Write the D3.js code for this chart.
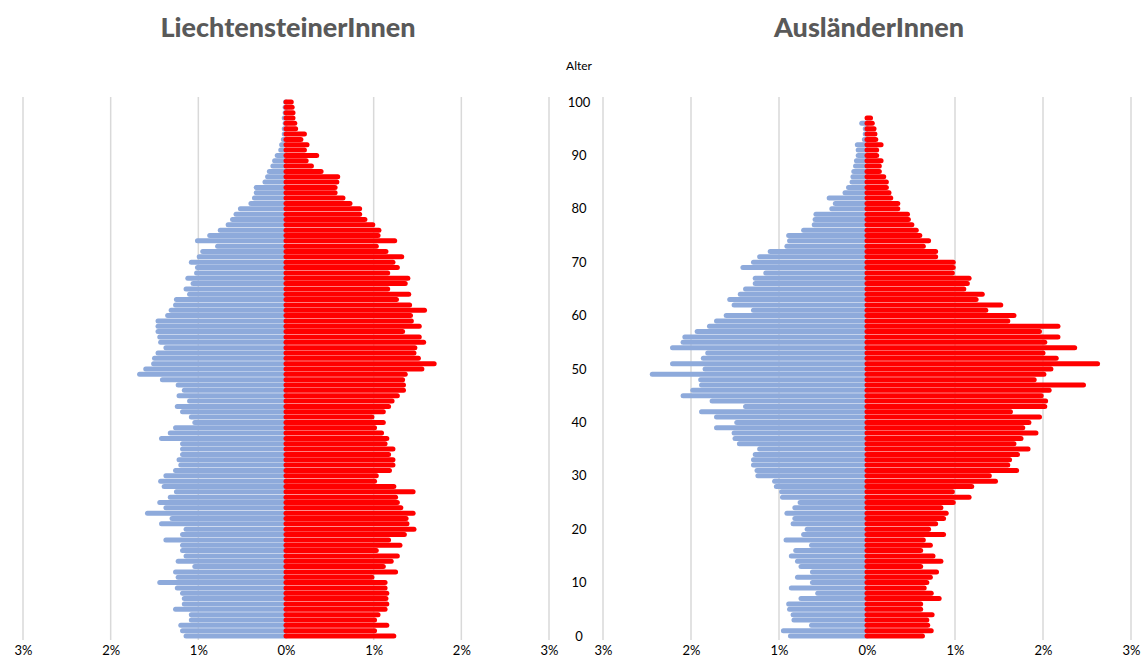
<!DOCTYPE html>
<html>
<head>
<meta charset="utf-8">
<title>Bevölkerungspyramide</title>
<script src="https://cdn.jsdelivr.net/npm/d3@7"></script>
<style>
  body { margin: 0; background: #fff; }
  text { font-family: Lato, "Open Sans", sans-serif; }
</style>
</head>
<body>
<svg width="1142" height="660"></svg>
<script>
// Anteil an der Gesamtbevölkerung der Gruppe in %, Alter 0..100
var ages = d3.range(0, 101);
var titles = ["LiechtensteinerInnen", "AusländerInnen"];
var pctTicks = [-3, -2, -1, 0, 1, 2, 3];
var ageTicks = d3.range(0, 101, 10);

var liMaenner = [1.14,1.18,1.20,1.08,1.08,1.26,1.16,1.16,1.18,1.24,1.44,1.23,1.26,1.04,1.23,1.14,1.18,1.18,1.37,1.18,
  1.14,1.42,1.30,1.58,1.37,1.44,1.32,1.25,1.39,1.43,1.37,1.26,1.20,1.22,1.18,1.18,1.18,1.42,1.32,1.26,
  1.04,1.08,1.18,1.24,1.10,1.22,1.16,1.23,1.41,1.67,1.60,1.51,1.50,1.46,1.37,1.43,1.44,1.46,1.46,1.46,
  1.35,1.31,1.26,1.25,1.10,1.14,1.06,1.12,1.02,1.01,1.08,0.99,0.95,0.78,1.01,0.87,0.75,0.66,0.61,0.57,
  0.52,0.40,0.36,0.34,0.34,0.24,0.21,0.19,0.15,0.13,0.10,0.06,0.05,0.03,0.02,0.02,0.01,0.02,0.01,0.01,0.005];
var liFrauen = [1.23,1.01,1.15,1.01,1.05,1.13,1.15,1.14,1.15,1.13,1.13,0.98,1.25,1.11,1.20,1.27,1.03,1.30,1.17,1.35,
  1.46,1.38,1.37,1.45,1.31,1.27,1.25,1.45,1.23,1.01,1.03,1.18,1.22,1.22,1.17,1.22,1.13,1.15,1.09,1.01,
  1.11,0.98,1.11,1.17,1.21,1.27,1.34,1.34,1.33,1.36,1.55,1.69,1.51,1.46,1.47,1.57,1.52,1.33,1.52,1.43,
  1.42,1.58,1.41,1.26,1.40,1.16,1.36,1.39,1.16,1.27,1.22,1.32,1.14,1.03,1.24,1.05,1.06,0.99,0.90,0.84,
  0.84,0.73,0.65,0.56,0.56,0.58,0.59,0.40,0.29,0.23,0.35,0.21,0.24,0.17,0.21,0.11,0.10,0.08,0.08,0.07,0.06];
var auMaenner = [0.87,0.95,0.63,0.83,0.84,0.88,0.89,0.75,0.56,0.86,0.62,0.79,0.62,0.75,0.79,0.86,0.81,0.63,0.92,0.72,
  0.68,0.84,0.82,0.91,0.82,0.76,0.96,0.97,1.03,1.05,1.24,1.25,1.29,1.29,1.27,1.22,1.45,1.50,1.51,1.71,
  1.48,1.71,1.88,1.38,1.76,2.09,1.98,1.88,1.89,2.44,1.84,2.21,1.86,1.81,2.21,2.09,2.07,1.93,1.79,1.71,
  1.60,1.29,1.51,1.56,1.44,1.38,1.27,1.27,1.15,1.41,1.29,1.22,1.10,0.91,0.88,0.89,0.72,0.60,0.59,0.58,
  0.40,0.36,0.43,0.25,0.21,0.17,0.16,0.15,0.13,0.12,0.10,0.10,0.11,0.03,0.02,0.02,0.06,0,0,0,0];
var auFrauen = [0.63,0.73,0.69,0.68,0.74,0.61,0.61,0.82,0.73,0.65,0.68,0.72,0.79,0.61,0.84,0.75,0.61,0.72,0.64,0.87,
  0.70,0.78,0.87,0.90,0.84,0.98,1.16,0.97,1.19,1.46,1.39,1.70,1.60,1.62,1.71,1.83,1.67,1.75,1.92,1.77,
  1.84,1.96,1.63,2.02,2.03,1.98,2.07,2.46,1.90,2.01,2.09,2.62,2.15,2.00,2.36,2.02,2.17,1.96,2.17,1.60,
  1.67,1.35,1.52,1.24,1.31,1.10,1.14,1.16,0.97,0.98,0.98,0.78,0.78,0.64,0.70,0.60,0.56,0.51,0.47,0.46,
  0.35,0.35,0.27,0.25,0.22,0.22,0.19,0.14,0.14,0.16,0.11,0.11,0.16,0.10,0.09,0.08,0.06,0.04,0,0,0];

var blau = "#8eaadb", rot = "#ff0000", grau = "#d9d9d9";

var svg = d3.select("svg");

var y = d3.scaleLinear().domain([0, 100]).range([636, 102]);

var panels = [
  {title: titles[0], m: liMaenner, f: liFrauen, range: [23, 549]},
  {title: titles[1], m: auMaenner, f: auFrauen, range: [603, 1131]}
];

panels.forEach(function(p) {
  var x = d3.scaleLinear().domain([-3, 3]).range(p.range);
  var g = svg.append("g");

  // Gitterlinien
  g.selectAll(".grid")
    .data(pctTicks.filter(function(d) { return d != 0; }))
    .enter().append("line")
    .attr("x1", function(d) { return x(d); })
    .attr("x2", function(d) { return x(d); })
    .attr("y1", 97)
    .attr("y2", 640)
    .style("stroke", grau)
    .style("stroke-width", 1.5);

  // Balken: Männer links, Frauen rechts (leere Altersjahre weglassen)
  g.selectAll(".m")
    .data(ages.filter(function(a) { return p.m[a] > 0; }))
    .enter().append("line")
    .attr("x1", x(0))
    .attr("x2", function(a) { return x(-p.m[a]); })
    .attr("y1", function(a) { return y(a); })
    .attr("y2", function(a) { return y(a); })
    .style("stroke", blau)
    .style("stroke-width", 5)
    .style("stroke-linecap", "round");

  g.selectAll(".f")
    .data(ages.filter(function(a) { return p.f[a] > 0; }))
    .enter().append("line")
    .attr("x1", x(0))
    .attr("x2", function(a) { return x(p.f[a]); })
    .attr("y1", function(a) { return y(a); })
    .attr("y2", function(a) { return y(a); })
    .style("stroke", rot)
    .style("stroke-width", 5)
    .style("stroke-linecap", "round");

  // x-Achse
  var ax = d3.axisBottom(x).tickValues(pctTicks).tickSize(0)
    .tickFormat(function(d) { return Math.abs(d) + "%"; });
  var axg = svg.append("g").attr("transform", "translate(0,643)").call(ax);
  axg.select(".domain").remove();
  axg.selectAll("text").style("font-size", "13px").style("fill", "#000");

  svg.append("text")
    .attr("x", x(0) + 2)
    .attr("y", 37)
    .attr("text-anchor", "middle")
    .style("font-size", "27px")
    .style("font-weight", "900")
    .style("fill", "#595959")
    .text(p.title);
});

// Altersachse in der Mitte
var ay = d3.axisLeft(y).tickValues(ageTicks).tickSize(0);
var ayg = svg.append("g").attr("transform", "translate(579,0)").call(ay);
ayg.select(".domain").remove();
ayg.selectAll("text")
  .attr("x", 0)
  .attr("text-anchor", "middle")
  .style("font-size", "13px")
  .style("fill", "#000");

svg.append("text")
  .attr("x", 579)
  .attr("y", 70)
  .attr("text-anchor", "middle")
  .style("font-size", "12px")
  .style("fill", "#000")
  .text("Alter");
</script>
</body>
</html>
